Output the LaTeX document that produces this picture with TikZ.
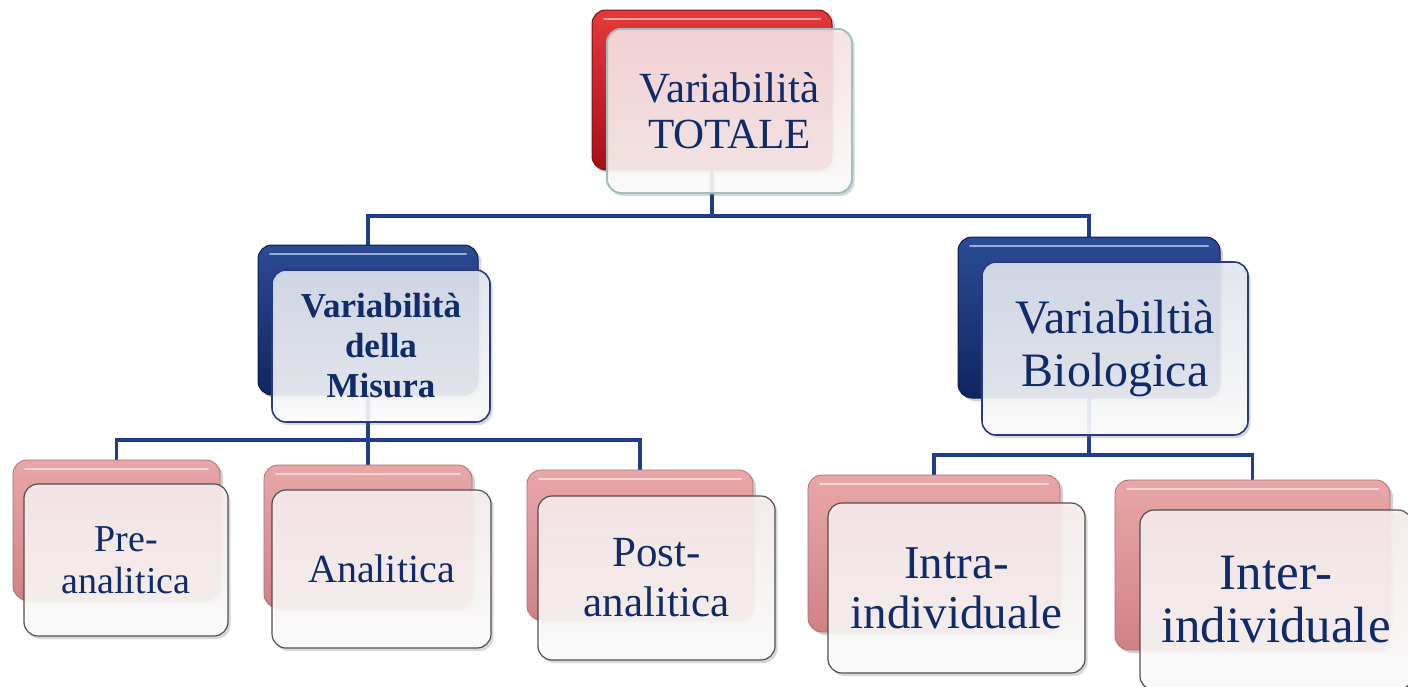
\documentclass[tikz,border=0pt]{standalone}
\usepackage{fontspec}
\setmainfont{Liberation Serif}
\usetikzlibrary{shadows}

\definecolor{navytext}{HTML}{0F2B69}
\definecolor{linkblue}{HTML}{1E3D8A}
\definecolor{redtop}{HTML}{E5393B}
\definecolor{redbot}{HTML}{A60F14}
\definecolor{navytop}{HTML}{2B4B96}
\definecolor{navybot}{HTML}{0E2560}
\definecolor{rosetop}{HTML}{E9A7A8}
\definecolor{rosebot}{HTML}{CF8283}
\definecolor{pinkfill}{HTML}{FAE3E6}
\definecolor{bluefill}{HTML}{E3E7F1}
\definecolor{palepink}{HTML}{F9EEEE}
\definecolor{tealedge}{HTML}{9DBFC2}
\definecolor{navyedge}{HTML}{2A3987}
\definecolor{greyedge}{HTML}{505050}

\pgfdeclarelayer{bg}
\pgfsetlayers{bg,main}

\tikzset{
  conn/.style={draw=linkblue, line width=3.2pt},
  back/.style={rounded corners=14pt, inner sep=0pt,
    drop shadow={opacity=0.35, shadow xshift=3pt, shadow yshift=-3pt},
    path picture={\draw[white, opacity=0.55, line width=2pt, line cap=round]
      ([xshift=12pt,yshift=-9pt]path picture bounding box.north west) --
      ([xshift=-12pt,yshift=-9pt]path picture bounding box.north east);}},
  backred/.style={back, top color=redtop, bottom color=redbot, draw=redbot!80!black, line width=1pt},
  backnavy/.style={back, top color=navytop, bottom color=navybot, draw=navybot!80!black, line width=1pt},
  backrose/.style={back, top color=rosetop, bottom color=rosebot, draw=rosebot!85!black, line width=0.8pt},
  front/.style={rounded corners=14pt, inner sep=0pt, align=center, text=navytext,
    fill opacity=0.88, text opacity=1,
    drop shadow={opacity=0.3, shadow xshift=2.5pt, shadow yshift=-3pt}},
  fronttop/.style={front, top color=pinkfill, bottom color=white, draw=tealedge, line width=2pt},
  frontmid/.style={front, top color=bluefill, bottom color=white, draw=navyedge, line width=1.6pt},
  frontlow/.style={front, top color=palepink, bottom color=white, draw=greyedge, line width=1.2pt},
}

\newcommand{\fs}[2]{\fontsize{#1}{#2}\selectfont}

\begin{document}
\begin{tikzpicture}[x=1pt, y=-1pt]
  \begin{pgfonlayer}{bg}
    \fill[white] (0,0) rectangle (1408,686);
  \end{pgfonlayer}
  \useasboundingbox (0,0) rectangle (1408,686);

  % root
  \node[backred, minimum width=240pt, minimum height=160pt] (totB) at (712,90) {};
  \node[fronttop, minimum width=245pt, minimum height=164pt, font=\fs{43}{46}] (tot) at (729.5,111) {Variabilità\\TOTALE};

  % second level
  \node[backnavy, minimum width=220pt, minimum height=150pt] (misB) at (368,320) {};
  \node[frontmid, minimum width=218pt, minimum height=152pt, font=\bfseries\fs{35}{40}] (mis) at (381,346) {Variabilità\\della\\Misura};

  \node[backnavy, minimum width=262pt, minimum height=161pt] (bioB) at (1089,317.5) {};
  \node[frontmid, minimum width=266pt, minimum height=173pt, font=\fs{48}{53}] (bio) at (1115,348.5) {Variabiltià\\Biologica};

  % third level
  \node[backrose, minimum width=207pt, minimum height=140pt] (preB) at (116.5,530) {};
  \node[frontlow, minimum width=204pt, minimum height=152pt, font=\fs{38}{42}] (pre) at (126,560) {Pre-\\analitica};

  \node[backrose, minimum width=208pt, minimum height=143pt] (anaB) at (368,536.5) {};
  \node[frontlow, minimum width=219pt, minimum height=158pt, font=\fs{40}{44}] (ana) at (381.5,569) {Analitica};

  \node[backrose, minimum width=226pt, minimum height=150pt] (posB) at (640,545) {};
  \node[frontlow, minimum width=237pt, minimum height=164pt, font=\fs{43}{50}] (pos) at (656.5,578) {Post-\\analitica};

  \node[backrose, minimum width=252pt, minimum height=157pt] (intB) at (934,553.5) {};
  \node[frontlow, minimum width=257pt, minimum height=170pt, font=\fs{47}{50}] (intr) at (956.5,588) {Intra-\\individuale};

  \node[backrose, minimum width=275pt, minimum height=170pt] (ierB) at (1252.5,565) {};
  \node[frontlow, minimum width=272pt, minimum height=180pt, font=\fs{51}{53}] (ier) at (1276,600) {Inter-\\individuale};

  % connectors, kept behind the boxes
  \coordinate (bus1) at (710,216);
  \coordinate (bus2) at (368,440);
  \coordinate (bus3) at (1090,455);
  \begin{pgfonlayer}{bg}
    \draw[conn] (totB.south) -- (totB.south |- bus1);
    \draw[conn] (misB.north) |- (bus1) -| (bioB.north);
    \draw[conn] (misB.south) -- (misB.south |- bus2);
    \draw[conn] (preB.north) |- (bus2) -| (posB.north);
    \draw[conn] (anaB.north) -- (anaB.north |- bus2);
    \draw[conn] (bioB.south) -- (bioB.south |- bus3);
    \draw[conn] (intB.north) |- (bus3) -| (ierB.north);
  \end{pgfonlayer}
\end{tikzpicture}
\end{document}
